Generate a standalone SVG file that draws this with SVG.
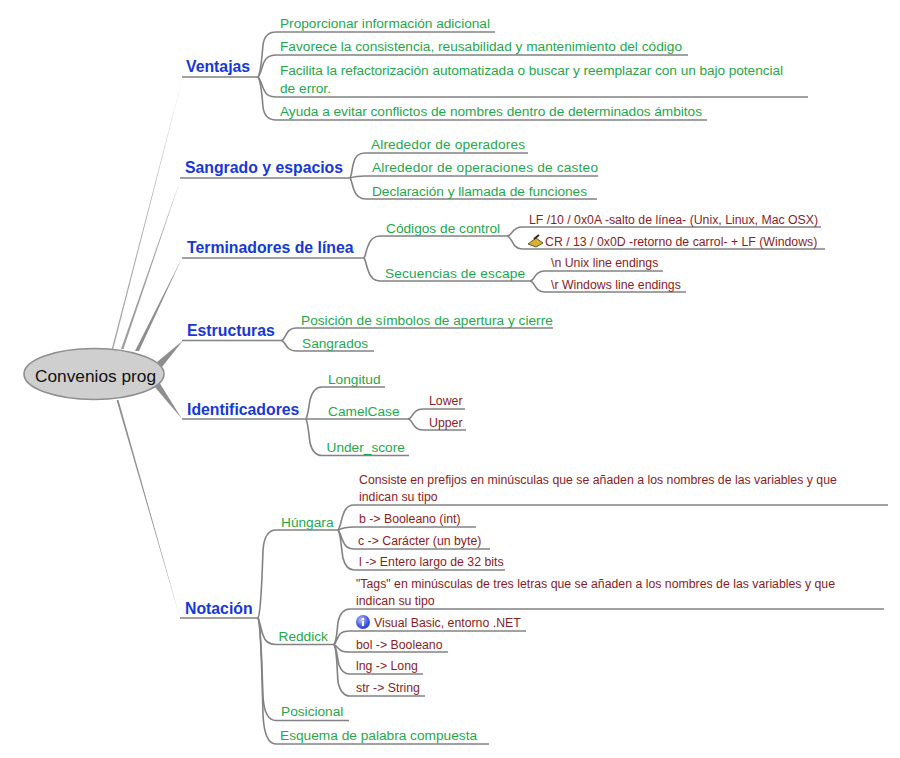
<svg xmlns="http://www.w3.org/2000/svg" width="900" height="758" viewBox="0 0 900 758">
<style>
text{font-family:"Liberation Sans",Arial,sans-serif}
.b{font-size:15.800px;font-weight:bold;fill:#1638d8}
.g{font-size:13.700px;fill:#1fa84c}
.r{font-size:12.300px;fill:#8c1c24}
.c{fill:none;stroke:#828282;stroke-width:1.600}
.t{fill:#8e8e8e}
</style>
<defs>
<radialGradient id="infoBall" cx="40%" cy="35%" r="70%"><stop offset="0" stop-color="#c4ccff"/><stop offset="0.6" stop-color="#4f5fe8"/><stop offset="1" stop-color="#2a38b8"/></radialGradient>
</defs>
<rect width="900" height="758" fill="#ffffff"/>
<g id="connectors">
<path class="t" d="M111.500 350L113 350L182 80Z" opacity="0.8"/>
<path class="t" d="M121 349L123.500 349L181 178Z" opacity="0.85"/>
<path class="t" d="M135 351L139 351L182 258Z"/>
<path class="t" d="M157 362L162 367L183 340.500Z"/>
<path class="t" d="M154 386L159 382L182 419Z"/>
<path class="t" d="M116.500 400L118.500 400L180 618Z"/>
<path class="c" d="M182 77H258C261 73 262 55 263 45C264 37 268 32 276 32H495"/>
<path class="c" d="M258 77C261 74 262 66 264 62C266 57 270 55 276 55H688"/>
<path class="c" d="M258 77C261 80 262 86 264 90C266 95 270 97 276 97H808"/>
<path class="c" d="M258 77C261 81 262 95 263 107C264 115 268 120 276 120H707"/>
<path class="c" d="M180 178H350C352 175 352 168 353.500 163C355 156 359 153 365 153H528"/>
<path class="c" d="M350 178C353 177 357 176 365 176H598"/>
<path class="c" d="M350 178C352 181 352 185 354 190C356 196 360 199 366 199H597"/>
<path class="c" d="M182 258H364C366 255 366 250 368 246C370 240 373 236 380 236H507"/>
<path class="c" d="M364 258C366 261 366 265 368 270C370 277 374 281 380 281H530"/>
<path class="c" d="M507 236C512 236 512 227 522 227H821"/>
<path class="c" d="M507 236C512 236 512 249 522 249H825"/>
<path class="c" d="M530 281C535 281 534 271 545 271H663"/>
<path class="c" d="M530 281C535 281 534 292 545 292H686"/>
<path class="c" d="M182 340.500H281C286 340.500 285 328 296 328H553"/>
<path class="c" d="M281 340.500C286 340.500 285 351 296 351H374"/>
<path class="c" d="M182 419H306C308 415 309 405 310 400C312 392 315 387 322 387H385"/>
<path class="c" d="M306 419H408"/>
<path class="c" d="M306 419C308 423 309 435 310 443C312 451 316 455.500 322 455.500H409"/>
<path class="c" d="M408 419C413 419 412 409 423 409H465"/>
<path class="c" d="M408 419C413 419 412 430 423 430H466"/>
<path class="c" d="M180 618H258C261 614 262 580 263 550C264 537 268 530 276 530H338"/>
<path class="c" d="M258 618C260 622 261 630 263 635C265 642 269 644.500 276 644.500H334"/>
<path class="c" d="M258 618C261 622 262 670 263 697C264 712 268 720.500 276 720.500H349"/>
<path class="c" d="M258 618C261 622 262 680 263 715C264 735 268 744 276 744H489"/>
<path class="c" d="M338 530C341 526 341 520 343 515C345 508 348 505 354 505H888"/>
<path class="c" d="M338 530C342 528 346 527 354 527H476"/>
<path class="c" d="M338 530C341 533 341 538 343 541C345 547 349 549 354 549H490"/>
<path class="c" d="M338 530C341 534 341 548 343 558C345 566 349 570 354 570H505"/>
<path class="c" d="M334 644.500C337 640 337 630 338 622C340 613 344 609 350 609H884"/>
<path class="c" d="M334 644.500C337 641 338 636 340 634C342 632 345 631 350 631H526"/>
<path class="c" d="M334 644.500C337 646 339 650 342 651C344 652 347 652 350 652H448"/>
<path class="c" d="M334 644.500C337 648 337 658 339 665C341 671 345 674 350 674H423"/>
<path class="c" d="M334 644.500C337 649 337 670 338 682C340 691 344 696 350 696H425"/>
</g>
<g id="root"><ellipse cx="94" cy="374" rx="70" ry="25.500" fill="#cfcfcf" stroke="#8e8e8e" stroke-width="1.600"/><text x="35" y="382" font-size="17.300px" fill="#111111">Convenios prog</text></g>
<g id="ventajas"><text class="b" x="186" y="72">Ventajas</text>
<text class="g" x="280" y="28" textLength="210">Proporcionar información adicional</text>
<text class="g" x="280" y="51" textLength="402">Favorece la consistencia, reusabilidad y mantenimiento del código</text>
<text class="g" x="280" y="75" textLength="503">Facilita la refactorización automatizada o buscar y reemplazar con un bajo potencial</text>
<text class="g" x="280" y="93">de error.</text>
<text class="g" x="280" y="116" textLength="422">Ayuda a evitar conflictos de nombres dentro de determinados ámbitos</text></g>
<g id="sangrado"><text class="b" x="185" y="173">Sangrado y espacios</text>
<text class="g" x="371" y="149" textLength="154">Alrededor de operadores</text>
<text class="g" x="372" y="172" textLength="226">Alrededor de operaciones de casteo</text>
<text class="g" x="372" y="196" textLength="215">Declaración y llamada de funciones</text></g>
<g id="terminadores"><text class="b" x="187" y="253">Terminadores de línea</text>
<text class="g" x="386" y="233">Códigos de control</text>
<text class="g" x="385" y="278" textLength="140">Secuencias de escape</text>
<text class="r" x="529" y="224">LF /10 / 0x0A -salto de línea- (Unix, Linux, Mac OSX)</text>
<g id="broom-icon"><path d="M528 244L536 238L543 243L536 247Z" fill="#d8b030" stroke="#3a3a20" stroke-width="0.800"/><path d="M534 239L539 235" stroke="#3a2a10" stroke-width="2"/></g>
<text class="r" x="545" y="246">CR / 13 / 0x0D -retorno de carrol- + LF (Windows)</text>
<text class="r" x="551" y="267">\n Unix line endings</text>
<text class="r" x="551" y="289">\r Windows line endings</text></g>
<g id="estructuras"><text class="b" x="187" y="336">Estructuras</text>
<text class="g" x="301" y="325">Posición de símbolos de apertura y cierre</text>
<text class="g" x="302" y="348">Sangrados</text></g>
<g id="identificadores"><text class="b" x="187" y="415">Identificadores</text>
<text class="g" x="328" y="384">Longitud</text>
<text class="g" x="328" y="416">CamelCase</text>
<text class="g" x="326.500" y="452">Under_score</text>
<text class="r" x="429" y="405">Lower</text>
<text class="r" x="429" y="427">Upper</text></g>
<g id="notacion"><text class="b" x="185" y="614">Notación</text>
<text class="g" x="281" y="527">Húngara</text>
<text class="g" x="278.500" y="641">Reddick</text>
<text class="g" x="281" y="716">Posicional</text>
<text class="g" x="280" y="740">Esquema de palabra compuesta</text>
<text class="r" x="359" y="484">Consiste en prefijos en minúsculas que se añaden a los nombres de las variables y que</text>
<text class="r" x="359" y="501">indican su tipo</text>
<text class="r" x="359" y="523">b -&gt; Booleano (int)</text>
<text class="r" x="358" y="545">c -&gt; Carácter (un byte)</text>
<text class="r" x="359" y="566">l -&gt; Entero largo de 32 bits</text>
<text class="r" x="356" y="588">"Tags" en minúsculas de tres letras que se añaden a los nombres de las variables y que</text>
<text class="r" x="356" y="605">indican su tipo</text>
<g id="info-icon"><circle cx="363" cy="622" r="7" fill="url(#infoBall)"/><rect x="362" y="621" width="2" height="5" fill="#ffffff"/><rect x="362" y="618" width="2" height="2" fill="#ffffff"/></g>
<text class="r" x="374" y="627">Visual Basic, entorno .NET</text>
<text class="r" x="356" y="649">bol -&gt; Booleano</text>
<text class="r" x="356" y="670">lng -&gt; Long</text>
<text class="r" x="356" y="692">str -&gt; String</text></g>
</svg>
